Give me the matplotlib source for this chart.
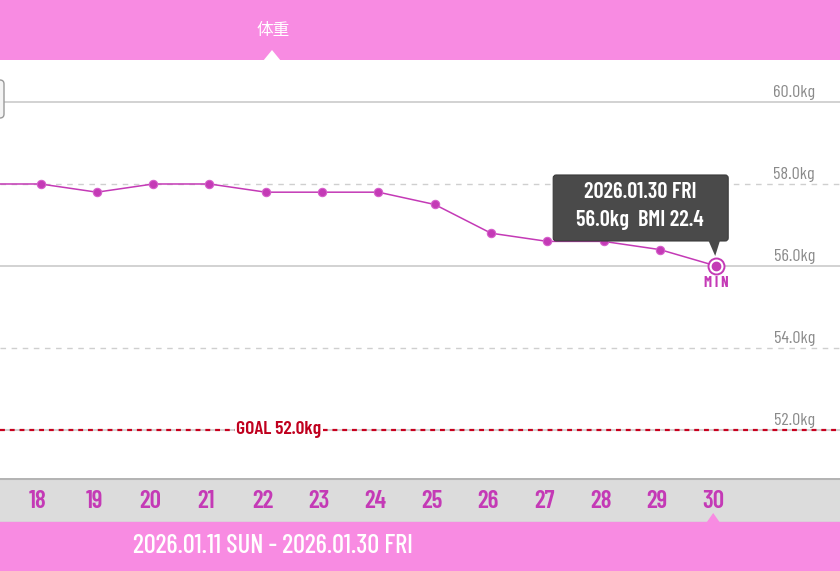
import matplotlib
matplotlib.use('Agg')
import matplotlib.pyplot as plt
from matplotlib.patches import Rectangle, Polygon, FancyBboxPatch
from matplotlib.transforms import Affine2D, blended_transform_factory

# data
days = [17, 18, 19, 20, 21, 22, 23, 24, 25, 26, 27, 28, 29, 30]
weights = [58.0, 58.0, 57.8, 58.0, 58.0, 57.8, 57.8, 57.8, 57.5, 56.8, 56.6, 56.6, 56.4, 56.0]
grid_vals = [60.0, 58.0, 56.0, 54.0, 52.0]
goal = 52.0
bmi = 22.4
title = '体重'
range_label = '2026.01.11 SUN - 2026.01.30 FRI'
tip_date = '2026.01.30 FRI'

W, H = 840, 571
PINK = '#f88be2'
MAG = '#c43ab6'
GRAY_TXT = '#8a8a8a'
NARROW = ['Barlow Condensed', 'Roboto Condensed', 'DejaVu Sans']
CJK = ['Noto Sans CJK JP', 'DejaVu Sans']

fig = plt.figure(figsize=(W / 100, H / 100), dpi=100)
fig.patch.set_facecolor('white')
# pixel coords with top-left origin
px = Affine2D().scale(1 / W, -1 / H).translate(0, 1) + fig.transFigure


def fy(p):
    return 1 - p / H


# header / footer
fig.patches.append(Rectangle((0, 0), W, 60, transform=px, facecolor=PINK, edgecolor='none', zorder=0))
fig.patches.append(Polygon([(263, 61), (272, 50), (281, 61)], closed=True, transform=px,
                           facecolor='white', edgecolor='none', zorder=1))
fig.text(273 / W, fy(31), title, color='white', fontsize=12, family=CJK, ha='center', va='center')

fig.patches.append(Rectangle((0, 522), W, 49, transform=px, facecolor=PINK, edgecolor='none', zorder=0))
fig.text(273 / W, fy(546), range_label, color='white', fontsize=19, fontweight='medium',
         family=NARROW, ha='center', va='center')

# main plot area
ax = fig.add_axes([0, fy(478), 1, (478 - 60) / H])
ax.set_xlim(17.279, 32.199)
ax.set_ylim(50.829, 61.024)
ax.axis('off')

for i, g in enumerate(grid_vals):
    if i % 2 == 0:
        ax.axhline(g, color='#cfcfcf', lw=1.3, zorder=1)
    else:
        ax.axhline(g, color='#cfcfcf', lw=1.0, ls=(0, (4, 4)), zorder=1)
    ax.annotate(f'{g:.1f}kg', xy=(815 / W, g), xycoords=('axes fraction', 'data'),
                xytext=(0, 9), textcoords='offset pixels', ha='right', va='center',
                fontsize=13, color=GRAY_TXT, family=NARROW, zorder=2)

# goal line
ax.axhline(goal, color='#c8001e', lw=1.6, ls=(0, (2.2, 2.2)), zorder=3)
ax.text(279 / W, goal, f'GOAL {goal:.1f}kg', transform=blended_transform_factory(ax.transAxes, ax.transData),
        ha='center', va='center', fontsize=14, fontweight='semibold', color='#c0001e', family=NARROW,
        bbox=dict(facecolor='white', edgecolor='none', pad=0.8), zorder=4)

# weight line
ax.plot(days, weights, color=MAG, lw=1.1, zorder=5)
ax.plot(days[:-1], weights[:-1], 'o', ms=6, color=MAG, mec='#d65fcb', mew=0.8, zorder=6)
ax.plot(days[-1], weights[-1], 'o', ms=11.5, mfc='white', mec=MAG, mew=1.4, zorder=6)
ax.plot(days[-1], weights[-1], 'o', ms=6, color=MAG, zorder=7)
ax.annotate('M I N', xy=(days[-1], weights[-1]), xytext=(0, -17), textcoords='offset pixels',
            ha='center', va='center', fontsize=10.5, fontweight='bold', color=MAG, family=NARROW, zorder=7)

# tooltip anchored to last point
fig.canvas.draw()
dx, dy = ax.transData.transform((days[-1], weights[-1]))
ptx, pty = dx, H - dy
box = FancyBboxPatch((ptx - 163, pty - 91), 175, 66, boxstyle='round,pad=0,rounding_size=3',
                     transform=px, facecolor='#4a4a4a', edgecolor='#3a3a3a', lw=0.8, zorder=8)
fig.patches.append(box)
fig.patches.append(Polygon([(ptx - 8, pty - 26), (ptx + 4, pty - 26), (ptx - 1, pty - 10)], closed=True,
                           transform=px, facecolor='#4a4a4a', edgecolor='none', zorder=8))
fig.text((ptx - 76) / W, fy(pty - 74), tip_date, color='white', fontsize=16, fontweight='semibold',
         family=NARROW, ha='center', va='center', zorder=9)
fig.text((ptx - 76) / W, fy(pty - 46), f'{weights[-1]:.1f}kg  BMI {bmi:.1f}', color='white', fontsize=16,
         fontweight='semibold', family=NARROW, ha='center', va='center', zorder=9)

# left scroll handle
fig.patches.append(FancyBboxPatch((-12, 80), 16, 38, boxstyle='round,pad=0,rounding_size=4', transform=px,
                                  facecolor='#f4f4f4', edgecolor='#9a9a9a', lw=1.0, zorder=3))

# day band
plt.rcParams['hatch.linewidth'] = 0.7
plt.rcParams['hatch.color'] = '#c2c2c2'
bx = fig.add_axes([0, fy(522), 1, 44 / H], sharex=ax)
bx.axis('off')
bx.add_patch(Rectangle((0, 0), 1, 1, transform=bx.transAxes, facecolor='#dcdcdc', edgecolor='none',
                       hatch='//////', zorder=0))
bx.axhline(1, color='#b4b4b4', lw=2.2, zorder=2)
bx.axhline(0, color='#e590d9', lw=1.0, zorder=2)
for d in days[1:]:
    bx.annotate(str(d), xy=(d, 0.5), xycoords=('data', 'axes fraction'), xytext=(-3, -1),
                textcoords='offset pixels', ha='center', va='center', fontsize=18, fontweight='semibold',
                color=MAG, family=NARROW)
tx, _ = ax.transData.transform((days[-1], weights[-1]))
fig.patches.append(Polygon([(tx - 10, 523), (tx - 3, 513), (tx + 4, 523)], closed=True, transform=px,
                           facecolor=PINK, edgecolor='none', zorder=5))

fig.savefig('out.png', dpi=100)
